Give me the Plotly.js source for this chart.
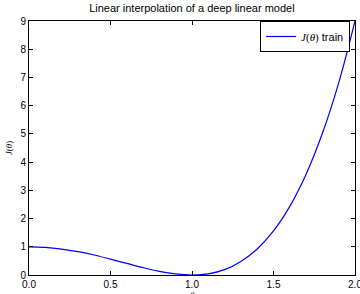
<!DOCTYPE html>
<html>
<head>
<meta charset="utf-8">
<script src="https://cdn.plot.ly/plotly-3.0.1.min.js"></script>
<style>html,body{margin:0;padding:0;background:#fff;overflow:hidden;}#chart{width:360px;height:294px;}</style>
</head>
<body>
<div id="chart"></div>
<script>
// Interpolation coefficient theta and training cost J(theta)
var theta = [0.0, 0.1, 0.2, 0.3, 0.4, 0.5, 0.6, 0.7, 0.8, 0.9, 1.0,
             1.1, 1.2, 1.3, 1.4, 1.5, 1.6, 1.7, 1.8, 1.9, 2.0];
var jTrain = [1.00, 0.98, 0.92, 0.83, 0.71, 0.56, 0.41, 0.26, 0.13, 0.04, 0.00,
              0.04, 0.19, 0.48, 0.92, 1.56, 2.43, 3.57, 5.02, 6.81, 9.00];
var xTicks = [0.0, 0.5, 1.0, 1.5, 2.0];
var yTicks = [0, 1, 2, 3, 4, 5, 6, 7, 8, 9];
var seriesName = '<span style="font-family:\'Liberation Serif\';"><i>J</i>(<i>θ</i>)</span> train';
var titleText = 'Linear interpolation of a deep linear model';
var xTitle = '<i>θ</i>';
var yTitle = '<i>J</i>(<i>θ</i>)';

var trace = {
  x: theta, y: jTrain, type: 'scatter', mode: 'lines',
  name: seriesName,
  line: {color: '#0000ff', width: 1.2, shape: 'spline'}
};

var axisCommon = {
  showgrid: false, zeroline: false,
  showline: true, linecolor: '#000', linewidth: 1,
  mirror: 'ticks', ticks: 'inside', ticklen: 4, tickwidth: 1, tickcolor: '#000',
  ticklabeloverflow: 'allow',
  tickfont: {family: 'Liberation Sans, Arial, sans-serif', size: 10, color: '#000'}
};

var layout = {
  width: 360, height: 294,
  margin: {l: 29, r: 5, t: 21, b: 19},
  paper_bgcolor: '#fff', plot_bgcolor: '#fff',
  title: {text: titleText, font: {family: 'Liberation Sans, Arial, sans-serif', size: 11, color: '#000'},
          x: 0.533, xanchor: 'center', y: 0.985, yanchor: 'top'},
  xaxis: Object.assign({}, axisCommon, {
    range: [0, 2], tickvals: xTicks, ticktext: xTicks.map(function(v){return v.toFixed(1);})
  }),
  yaxis: Object.assign({}, axisCommon, {
    range: [0, 9], tickvals: yTicks, ticktext: yTicks.map(String),
    title: {text: yTitle, font: {family: 'Liberation Serif, serif', size: 9, color: '#000'}, standoff: 6}
  }),
  annotations: [{
    text: xTitle, xref: 'paper', yref: 'paper', x: 0.5, y: 0, xanchor: 'center', yanchor: 'top',
    yshift: -13, showarrow: false,
    font: {family: 'Liberation Serif, serif', size: 9, color: '#000'}
  }],
  showlegend: true,
  legend: {x: 0.985, xanchor: 'right', y: 1.0, yanchor: 'top',
           bgcolor: '#fff', bordercolor: '#000', borderwidth: 1, itemwidth: 30,
           font: {family: 'Liberation Sans, Arial, sans-serif', size: 11, color: '#000'}}
};

Plotly.newPlot('chart', [trace], layout, {staticPlot: true, displayModeBar: false});
</script>
</body>
</html>
